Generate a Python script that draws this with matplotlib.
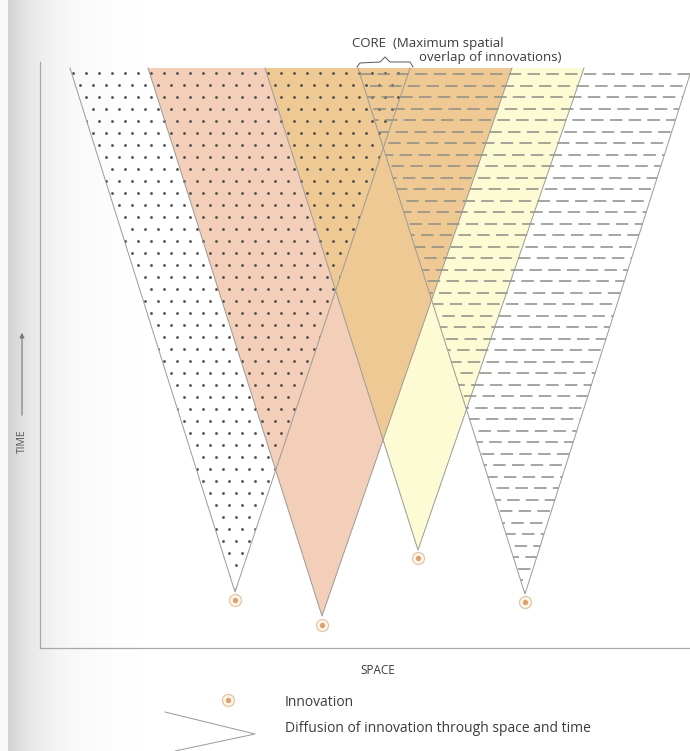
import numpy as np
import matplotlib.pyplot as plt
from matplotlib.patches import Polygon

plt.rcParams['font.family'] = ['Open Sans', 'DejaVu Sans']
plt.rcParams['lines.scale_dashes'] = False

# four diffusion cones, pixel units (y grows downwards)
top_y = 68
top_left = [70, 148, 265, 358]
top_right = [410, 512, 584, 692]
apex_x = [235, 322, 418, 525]
apex_y = [592, 616, 550, 594]
marker_y = [600, 625, 558, 602]

pink = '#f3cfb9'
orange = '#efc994'
yellow = '#fdfbd4'
edge = '#9a9a96'
txt = '#3c3c3c'

fig = plt.figure(figsize=(6.9, 7.51), dpi=100)
ax = fig.add_axes([0, 0, 1, 1])
ax.set_xlim(0, 690)
ax.set_ylim(751, 0)
ax.axis('off')

# grey shadow of the book gutter on the left
shade = np.zeros((1, 140, 4))
xs = np.arange(140)
alpha = np.where(xs < 8, 0.06, 0.4 * np.exp(-(xs - 8) / 34.0))
shade[0, :, :3] = 0.55
shade[0, :, 3] = alpha
ax.imshow(shade, extent=(0, 140, 751, 0), aspect='auto', zorder=0)


def cone(i):
    return [(top_left[i], top_y), (top_right[i], top_y), (apex_x[i], apex_y[i])]


# coloured cones, orange where pink and yellow overlap
pink_p = Polygon(cone(1), closed=True, fc=pink, ec='none', zorder=1)
yel_p = Polygon(cone(2), closed=True, fc=yellow, ec='none', zorder=1)
ax.add_patch(pink_p)
ax.add_patch(yel_p)
over = Polygon(cone(1), closed=True, fc=orange, ec='none', zorder=2)
ax.add_patch(over)
over.set_clip_path(yel_p)

# dotted cone
dot_clip = Polygon(cone(0), closed=True, fill=False, ec='none')
ax.add_patch(dot_clip)
gx, gy = [], []
for k, y in enumerate(np.arange(73, 600, 12.0)):
    off = 6.5 if k % 2 else 0
    for x in np.arange(60 + off, 430, 13.0):
        gx.append(x)
        gy.append(y)
dots = ax.scatter(gx, gy, s=4, color='#4a4a4a', lw=0, zorder=3)
dots.set_clip_path(dot_clip)

# dashed cone
dash_clip = Polygon(cone(3), closed=True, fill=False, ec='none')
ax.add_patch(dash_clip)
for k, y in enumerate(np.arange(74, 600, 11.5)):
    off = (k * 5.3) % 13
    ln, = ax.plot([340, 700], [y, y], color='#8e8e86', lw=1.1,
                  ls=(off, (9.0, 4.5)), zorder=3)
    ln.set_clip_path(dash_clip)

# cone edges
for i in range(4):
    ax.plot([top_left[i], apex_x[i], top_right[i]], [top_y, apex_y[i], top_y],
            color=edge, lw=0.7, zorder=4)

# innovation markers
ax.scatter(apex_x, marker_y, s=75, fc='#fdf5e8', ec='#e2c6a8', lw=0.9, zorder=5)
ax.scatter(apex_x, marker_y, s=15, color='#dea06e', lw=0, zorder=6)

# axes
ax.plot([40, 40], [62, 648], color='#a8a8a8', lw=0.9, zorder=4)
ax.plot([40, 690], [648, 648], color='#a8a8a8', lw=0.9, zorder=4)
ax.text(22, 441, 'TIME', rotation=90, ha='center', va='center',
        fontsize=7.5, color='#555555')
ax.annotate('', xy=(22, 330), xytext=(22, 418),
            arrowprops=dict(arrowstyle='-|>', color='#777777', lw=0.8,
                            mutation_scale=7))
ax.text(378, 670, 'SPACE', ha='center', va='center', fontsize=8.5, color=txt)

# core annotation with brace
ax.text(352, 43, 'CORE  (Maximum spatial', ha='left', va='center',
        fontsize=9.5, color=txt)
ax.text(419, 57, 'overlap of innovations)', ha='left', va='center',
        fontsize=9.5, color=txt)
bx = [357, 360, 380, 385, 390, 410, 413]
by = [67, 63, 62, 57, 62, 62, 67]
ax.plot(bx, by, color='#555555', lw=0.7, zorder=4)

# legend
ax.scatter([228], [700], s=75, fc='#fdf5e8', ec='#e2c6a8', lw=0.9, zorder=5)
ax.scatter([228], [700], s=15, color='#dea06e', lw=0, zorder=6)
ax.text(285, 702, 'Innovation', ha='left', va='center', fontsize=10, color=txt)
ax.plot([165, 255, 175], [712, 734, 751], color='#999999', lw=0.7)
ax.text(285, 729, 'Diffusion of innovation through space and time',
        ha='left', va='center', fontsize=10, color=txt)

fig.savefig('out.png', dpi=100)
